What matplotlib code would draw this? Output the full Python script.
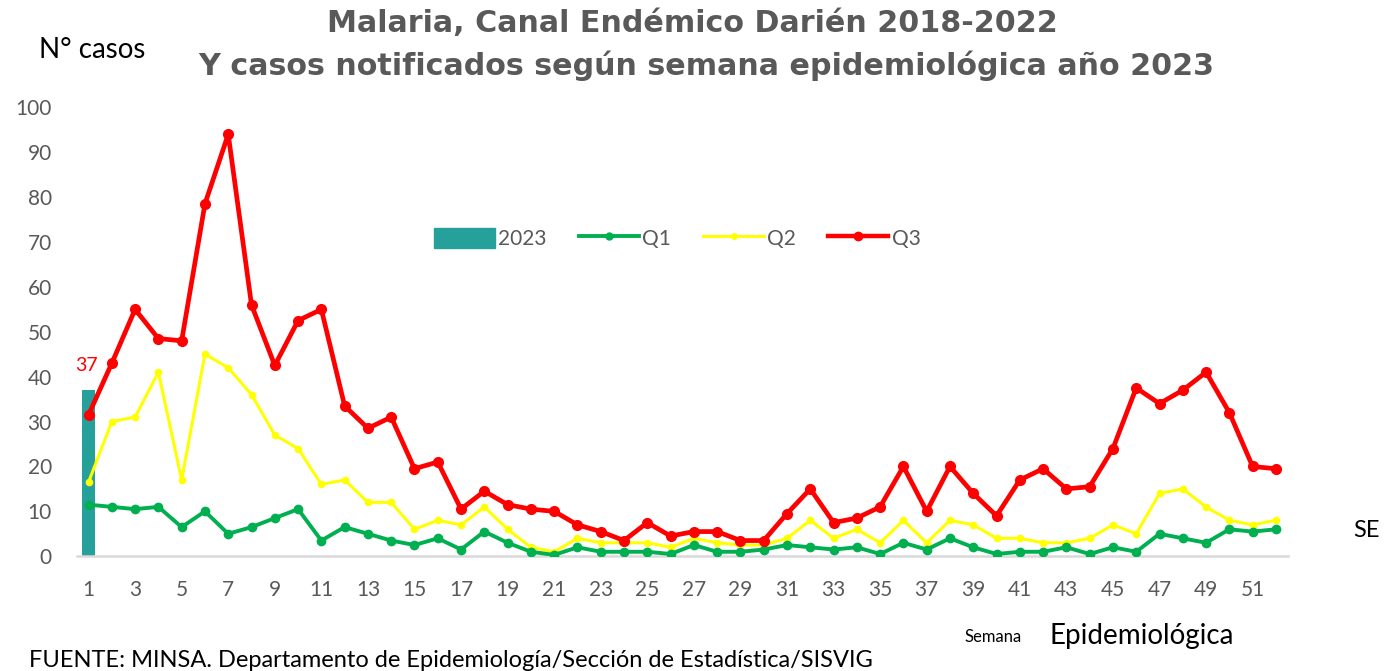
import matplotlib.pyplot as plt
from matplotlib.patches import Patch
from matplotlib.lines import Line2D

# semanas epidemiologicas
semanas = list(range(1, 53))

# casos 2023 (solo semana 1 reportada)
casos_2023_semanas = [1]
casos_2023 = [37]

q1 = [11.5, 11, 10.5, 11, 6.5, 10, 5, 6.5, 8.5, 10.5, 3.5, 6.5, 5, 3.5, 2.5, 4, 1.5, 5.5, 3, 1,
      0.3, 2, 1, 1, 1, 0.5, 2.5, 1, 1, 1.5, 2.5, 2, 1.5, 2, 0.5, 3, 1.5, 4, 2, 0.5,
      1, 1, 2, 0.5, 2, 1, 5, 4, 3, 6, 5.5, 6]
q2 = [16.5, 30, 31, 41, 17, 45, 42, 36, 27, 24, 16, 17, 12, 12, 6, 8, 7, 11, 6, 2,
      1, 4, 3, 3, 3, 2, 4, 3, 2.5, 2.5, 4, 8, 4, 6, 3, 8, 3, 8, 7, 4,
      4, 3, 3, 4, 7, 5, 14, 15, 11, 8, 7, 8]
q3 = [31.5, 43, 55, 48.5, 48, 78.5, 94, 56, 42.5, 52.5, 55, 33.5, 28.5, 31, 19.5, 21, 10.5, 14.5, 11.5, 10.5,
      10, 7, 5.5, 3.5, 7.5, 4.5, 5.5, 5.5, 3.5, 3.5, 9.5, 15, 7.5, 8.5, 11, 20, 10, 20, 14, 9,
      17, 19.5, 15, 15.5, 24, 37.5, 34, 37, 41, 32, 20, 19.5]

gris = '#595959'
plt.rcParams['font.family'] = ['Lato', 'DejaVu Sans']

fig = plt.figure(figsize=(13.98, 6.71), dpi=100)
ax = fig.add_axes([0.055, 0.171, 0.866, 0.669])

ax.bar(casos_2023_semanas, casos_2023, width=0.55, color='#26A09A', zorder=1)
ax.plot(semanas, q1, color='#00B050', lw=2.8, marker='o', ms=6, zorder=3)
ax.plot(semanas, q2, color='#FFFF00', lw=2.2, marker='o', ms=4.5, zorder=2)
ax.plot(semanas, q3, color='#FF0000', lw=3.4, marker='o', ms=7, zorder=4)

ax.text(casos_2023_semanas[0] - 0.1, casos_2023[0] + 3.5, str(casos_2023[0]), color='#FF0000',
        fontsize=14, ha='center', va='bottom')

ax.set_xlim(0.5, 52.5)
ax.set_ylim(0, 100)
ax.set_xticks(list(range(1, 53, 2)))
ax.set_yticks(list(range(0, 101, 10)))
ax.tick_params(length=0, labelsize=15, colors=gris)
ax.tick_params(axis='x', pad=17)
ax.tick_params(axis='y', pad=18)
for s in ['top', 'right', 'left']:
    ax.spines[s].set_visible(False)
ax.spines['bottom'].set_color('#D9D9D9')
ax.spines['bottom'].set_linewidth(1.8)

handles = [Patch(color='#26A09A'),
           Line2D([], [], color='#00B050', lw=2.8, marker='o', ms=5),
           Line2D([], [], color='#FFFF00', lw=2.2, marker='o', ms=4),
           Line2D([], [], color='#FF0000', lw=3.2, marker='o', ms=6)]
leg = ax.legend(handles, ['2023', 'Q1', 'Q2', 'Q3'], ncol=4, frameon=False,
                loc='center', bbox_to_anchor=(0.496, 0.708), fontsize=15,
                handlelength=2.9, handleheight=1.1, columnspacing=1.55, handletextpad=0.15)
for t in leg.get_texts():
    t.set_color(gris)

fig.text(0.495, 0.965, 'Malaria, Canal Endémico Darién 2018-2022', ha='center', va='center',
         fontsize=21.7, fontweight='bold', color=gris, family='DejaVu Sans')
fig.text(0.505, 0.902, 'Y casos notificados según semana epidemiológica año 2023', ha='center',
         va='center', fontsize=21.7, fontweight='bold', color=gris, family='DejaVu Sans')
fig.text(0.028, 0.925, 'N° casos', fontsize=20, color='black', va='center')
fig.text(0.968, 0.21, 'SE', fontsize=17, color='black', va='center')
fig.text(0.69, 0.05, 'Semana', fontsize=12, color='black', va='center')
fig.text(0.751, 0.052, 'Epidemiológica', fontsize=20, color='black', va='center')
fig.text(0.021, 0.016, 'FUENTE: MINSA. Departamento de Epidemiología/Sección de Estadística/SISVIG',
         fontsize=17, color='black', va='center')

fig.savefig('out.png', dpi=100)
